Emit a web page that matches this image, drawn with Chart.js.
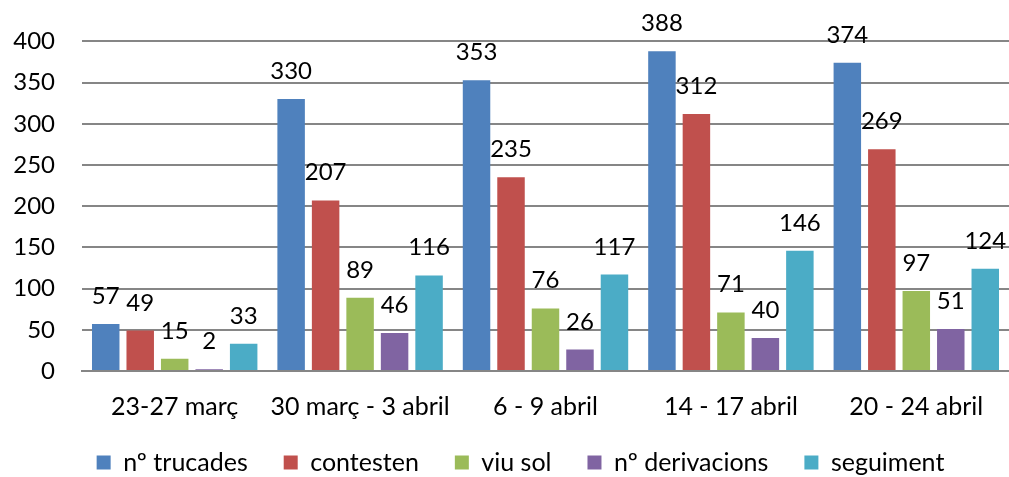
<!DOCTYPE html>
<html>
<head>
<meta charset="utf-8">
<script src="https://cdn.jsdelivr.net/npm/chart.js@4"></script>
<style>
  html, body { margin: 0; padding: 0; background: #fff; }
  #wrap { width: 1009px; height: 477px; }
</style>
</head>
<body>
<div id="wrap"><canvas id="barChart"></canvas></div>
<script>
let weekLabels = ["23-27 març", "30 març - 3 abril", "6 - 9 abril", "14 - 17 abril", "20 - 24 abril"];
let trucades = [57, 330, 353, 388, 374];
let contesten = [49, 207, 235, 312, 269];
let viuSol = [15, 89, 76, 71, 97];
let derivacions = [2, 46, 26, 40, 51];
let seguiment = [33, 116, 117, 146, 124];
let yTicks = [0, 50, 100, 150, 200, 250, 300, 350, 400];

const FONT = "Lato, Carlito, Calibri, sans-serif";

// draws the value above every bar
const valueLabels = {
    id: "valueLabels",
    afterDatasetsDraw(chart) {
        let ctx = chart.ctx;
        ctx.save();
        ctx.font = "24px " + FONT;
        ctx.fillStyle = "#000";
        ctx.textAlign = "center";
        ctx.textBaseline = "alphabetic";
        chart.data.datasets.forEach((ds, i) => {
            chart.getDatasetMeta(i).data.forEach((bar, j) => {
                ctx.fillText(ds.data[j], bar.x, bar.y - 20);
            });
        });
        ctx.restore();
    }
};

// legend needs wide gaps between items but not that much height
const legendSqueeze = {
    id: "legendSqueeze",
    beforeLayout(chart) {
        let lg = chart.legend;
        if (!lg || lg._squeezed) return;
        let fit = lg.fit;
        lg.fit = function () {
            fit.call(this);
            this.height = 56;
        };
        lg._squeezed = true;
    },
    afterLayout(chart) {
        let lg = chart.legend;
        lg.top -= 7;
        // excel's legend sits a bit right of centre
        lg.left += 12;
        lg.right += 12;
    }
};

let ctx = document.getElementById("barChart").getContext("2d");
new Chart(ctx, {
    type: "bar",
    data: {
        labels: weekLabels,
        datasets: [
            { label: "nº trucades", data: trucades, backgroundColor: "#4F81BD" },
            { label: "contesten", data: contesten, backgroundColor: "#C0504D" },
            { label: "viu sol", data: viuSol, backgroundColor: "#9BBB59" },
            { label: "nº derivacions", data: derivacions, backgroundColor: "#8064A2" },
            { label: "seguiment", data: seguiment, backgroundColor: "#4BACC6" }
        ]
    },
    options: {
        responsive: true,
        maintainAspectRatio: false,
        animation: false,
        datasets: {
            bar: { categoryPercentage: 0.93, barPercentage: 0.797 }
        },
        layout: { padding: { top: 37, right: 0, left: 8, bottom: 0 } },
        plugins: {
            legend: {
                position: "bottom",
                labels: {
                    font: { family: FONT, size: 25 },
                    color: "#000",
                    boxWidth: 14,
                    boxHeight: 14,
                    padding: 36
                }
            },
            tooltip: { enabled: false }
        },
        scales: {
            x: {
                afterFit(axis) { axis.height = 50; },
                grid: { display: false, drawTicks: false },
                border: { color: "#868686", width: 2 },
                ticks: {
                    font: { family: FONT, size: 25, lineHeight: 1 },
                    color: "#000",
                    padding: 23,
                    maxRotation: 0,
                    autoSkip: false
                }
            },
            y: {
                min: 0,
                max: 400,
                afterFit(axis) { axis.width = 74; },
                afterBuildTicks(axis) {
                    axis.ticks = yTicks.map(v => ({ value: v }));
                },
                grid: { color: "#868686", lineWidth: 2, drawTicks: false },
                border: { display: false },
                ticks: { font: { family: FONT, size: 24 }, color: "#000", padding: 27 }
            }
        }
    },
    plugins: [valueLabels, legendSqueeze]
});
</script>
</body>
</html>
